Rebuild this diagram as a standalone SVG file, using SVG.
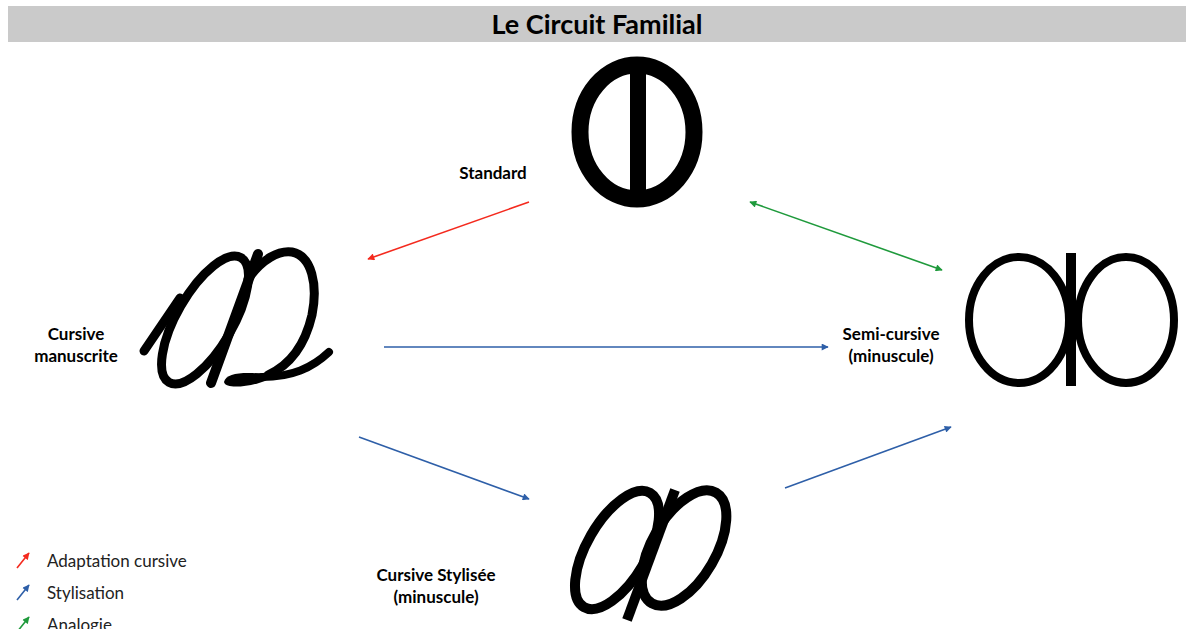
<svg xmlns="http://www.w3.org/2000/svg" width="1186" height="629" viewBox="0 0 1186 629">
<defs>
<style>
.lbl{font-family:Lato,"Noto Sans",sans-serif;font-weight:bold;font-size:17px;fill:#000;text-anchor:middle}
.leg{font-family:Lato,"Noto Sans",sans-serif;font-size:17px;fill:#222}
.g{fill:none;stroke:#000;stroke-linecap:round;stroke-linejoin:round}
.red{stroke:#f42a1e;stroke-width:1.6;fill:none}
.blue{stroke:#2e5fa8;stroke-width:1.6;fill:none}
.green{stroke:#1f9a3c;stroke-width:1.6;fill:none}
</style>
<marker id="ar" viewBox="0 0 10 10" refX="9" refY="5" markerWidth="9" markerHeight="7" markerUnits="userSpaceOnUse" orient="auto-start-reverse"><path d="M0,0 L10,5 L0,10 z" fill="#f42a1e"/></marker>
<marker id="ab" viewBox="0 0 10 10" refX="9" refY="5" markerWidth="9" markerHeight="7" markerUnits="userSpaceOnUse" orient="auto-start-reverse"><path d="M0,0 L10,5 L0,10 z" fill="#2e5fa8"/></marker>
<marker id="ag" viewBox="0 0 10 10" refX="9" refY="5" markerWidth="9" markerHeight="7" markerUnits="userSpaceOnUse" orient="auto-start-reverse"><path d="M0,0 L10,5 L0,10 z" fill="#1f9a3c"/></marker>
</defs>
<rect width="1186" height="629" fill="#fff"/>
<g id="title">
<rect x="8" y="6" width="1178" height="36" fill="#cacaca"/>
<text x="597" y="34" style="font-family:Lato,'Noto Sans',sans-serif;font-weight:bold;font-size:27px;fill:#000;text-anchor:middle">Le Circuit Familial</text>
</g>
<g id="connectors">
<line class="red" x1="529" y1="202" x2="368" y2="259" marker-end="url(#ar)"/>
<line class="green" x1="750" y1="202" x2="942" y2="270" marker-start="url(#ag)" marker-end="url(#ag)"/>
<line class="blue" x1="384" y1="347" x2="828" y2="347" marker-end="url(#ab)"/>
<line class="blue" x1="359" y1="437" x2="529" y2="499" marker-end="url(#ab)"/>
<line class="blue" x1="785" y1="488" x2="951" y2="427" marker-end="url(#ab)"/>
</g>
<g id="standard">
<ellipse class="g" cx="637" cy="132" rx="57" ry="67" stroke-width="17"/>
<line x1="638" y1="70" x2="638" y2="195" stroke="#000" stroke-width="16"/>
<text class="lbl" x="493" y="179">Standard</text>
</g>
<g id="cursive-manuscrite">
<ellipse class="g" cx="205" cy="320" rx="72" ry="28" transform="rotate(-60 205 320)" stroke-width="9"/>
<line class="g" x1="144" y1="351" x2="180" y2="298" stroke-width="9"/>
<path class="g" d="M258,254 L211,383" stroke-width="10"/>
<path class="g" d="M248,279 C262,259 279,250 292,252 C312,256 318,285 312,315 C305,345 290,365 268,375" stroke-width="9"/>
<path d="M224,382 C226,372 245,372 268,374 C270,378 268,380 262,382 C250,386 226,390 224,382 z" fill="#000"/>
<path class="g" d="M262,377 C292,377 312,368 329,352" stroke-width="8"/>
<text class="lbl" x="76" y="340">Cursive</text>
<text class="lbl" x="76" y="362">manuscrite</text>
</g>
<g id="semi-cursive">
<ellipse class="g" cx="1019" cy="320" rx="50" ry="63" stroke-width="8"/>
<ellipse class="g" cx="1126" cy="320" rx="48" ry="63" stroke-width="8"/>
<rect x="1066" y="253" width="10" height="133" fill="#000"/>
<text class="lbl" x="891" y="340">Semi-cursive</text>
<text class="lbl" x="891" y="362">(minuscule)</text>
</g>
<g id="cursive-stylisee">
<ellipse class="g" cx="617" cy="550" rx="66" ry="30" transform="rotate(-60 617 550)" stroke-width="10"/>
<ellipse class="g" cx="684" cy="548" rx="64" ry="32" transform="rotate(-60 684 548)" stroke-width="10"/>
<line x1="675" y1="490" x2="627" y2="620" stroke="#000" stroke-width="10"/>
<text class="lbl" x="436" y="581">Cursive Stylisée</text>
<text class="lbl" x="436" y="603">(minuscule)</text>
</g>
<g id="legend">
<line class="red" x1="17" y1="568" x2="29" y2="553" marker-end="url(#ar)"/>
<text class="leg" x="47" y="567">Adaptation cursive</text>
<line class="blue" x1="17" y1="600" x2="29" y2="585" marker-end="url(#ab)"/>
<text class="leg" x="47" y="599">Stylisation</text>
<line class="green" x1="17" y1="632" x2="29" y2="617" marker-end="url(#ag)"/>
<text class="leg" x="47" y="631">Analogie</text>
</g>
</svg>
